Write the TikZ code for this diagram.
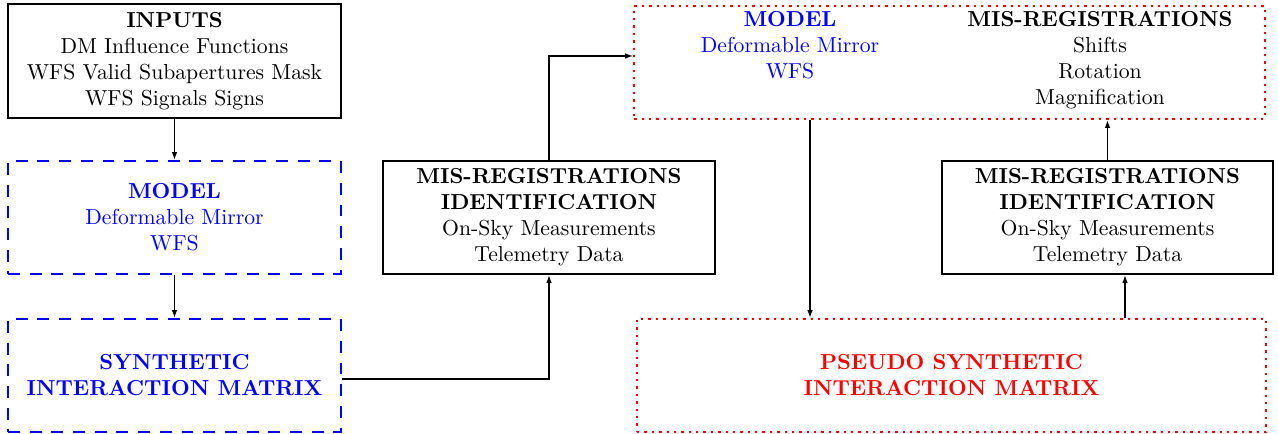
\documentclass[tikz,border=0pt]{standalone}
\usetikzlibrary{arrows.meta}
\begin{document}
\begin{tikzpicture}[x=0.0162cm,y=-0.0162cm,
  solidbox/.style={draw=black,line width=1.1pt,inner sep=0pt,align=center,font=\normalsize},
  bluebox/.style={draw=blue,line width=1.1pt,dash pattern=on 5.5pt off 4.5pt,inner sep=0pt,align=center,text=blue},
  redbox/.style={draw=red,line width=1.1pt,dash pattern=on 1.1pt off 2.3pt,inner sep=0pt,align=center},
  txt/.style={inner sep=0pt,align=center},
  arr/.style={line width=0.6pt,-{Latex[length=3.6pt,width=2.6pt]}}]
\useasboundingbox (0,0) rectangle (1278,434);
\node[solidbox,minimum width=5.395cm,minimum height=1.847cm] (inputs) at (174.5,61)
  {\textbf{INPUTS}\\DM Influence Functions\\WFS Valid Subapertures Mask\\WFS Signals Signs};
\node[bluebox,minimum width=5.395cm,minimum height=1.83cm] (model) at (174.5,217.5)
  {\textbf{MODEL}\\Deformable Mirror\\WFS};
\node[bluebox,minimum width=5.395cm,minimum height=1.83cm] (synth) at (174.5,375.5)
  {\textbf{SYNTHETIC}\\\textbf{INTERACTION MATRIX}};
\node[solidbox,minimum width=5.378cm,minimum height=1.83cm] (misreg1) at (549,217.5)
  {\textbf{MIS-REGISTRATIONS}\\\textbf{IDENTIFICATION}\\On-Sky Measurements\\Telemetry Data};
\node[redbox,minimum width=10.22cm,minimum height=1.83cm] (redtop) at (949.5,62.5) {};
\node[txt,text=blue,anchor=north] (topmodel) at (790,11)
  {\textbf{MODEL}\\Deformable Mirror\\WFS};
\node[txt,anchor=north] (topmis) at (1100,11)
  {\textbf{MIS-REGISTRATIONS}\\Shifts\\Rotation\\Magnification};
\node[solidbox,minimum width=5.36cm,minimum height=1.83cm] (misreg2) at (1107.5,217.5)
  {\textbf{MIS-REGISTRATIONS}\\\textbf{IDENTIFICATION}\\On-Sky Measurements\\Telemetry Data};
\node[redbox,text=red,minimum width=10.19cm,minimum height=1.83cm] (pseudo) at (951.5,375.5)
  {\textbf{PSEUDO SYNTHETIC}\\\textbf{INTERACTION MATRIX}};
\coordinate (cdown) at (810,0);
\coordinate (cup) at (1125,0);
\draw[arr] (inputs.south) -- (model.north);
\draw[arr] (model.south) -- (synth.north);
\draw[arr] ([yshift=-3.5*0.0162cm]synth.east) -| (misreg1.south);
\draw[arr] (misreg1.north) |- ([yshift=6.5*0.0162cm]redtop.west);
\draw[arr] (cdown |- redtop.south) -- (cdown |- pseudo.north);
\draw[arr] (cup |- pseudo.north) -- (cup |- misreg2.south);
\draw[arr] (misreg2.north) -- (misreg2.north |- redtop.south);
\end{tikzpicture}
\end{document}
